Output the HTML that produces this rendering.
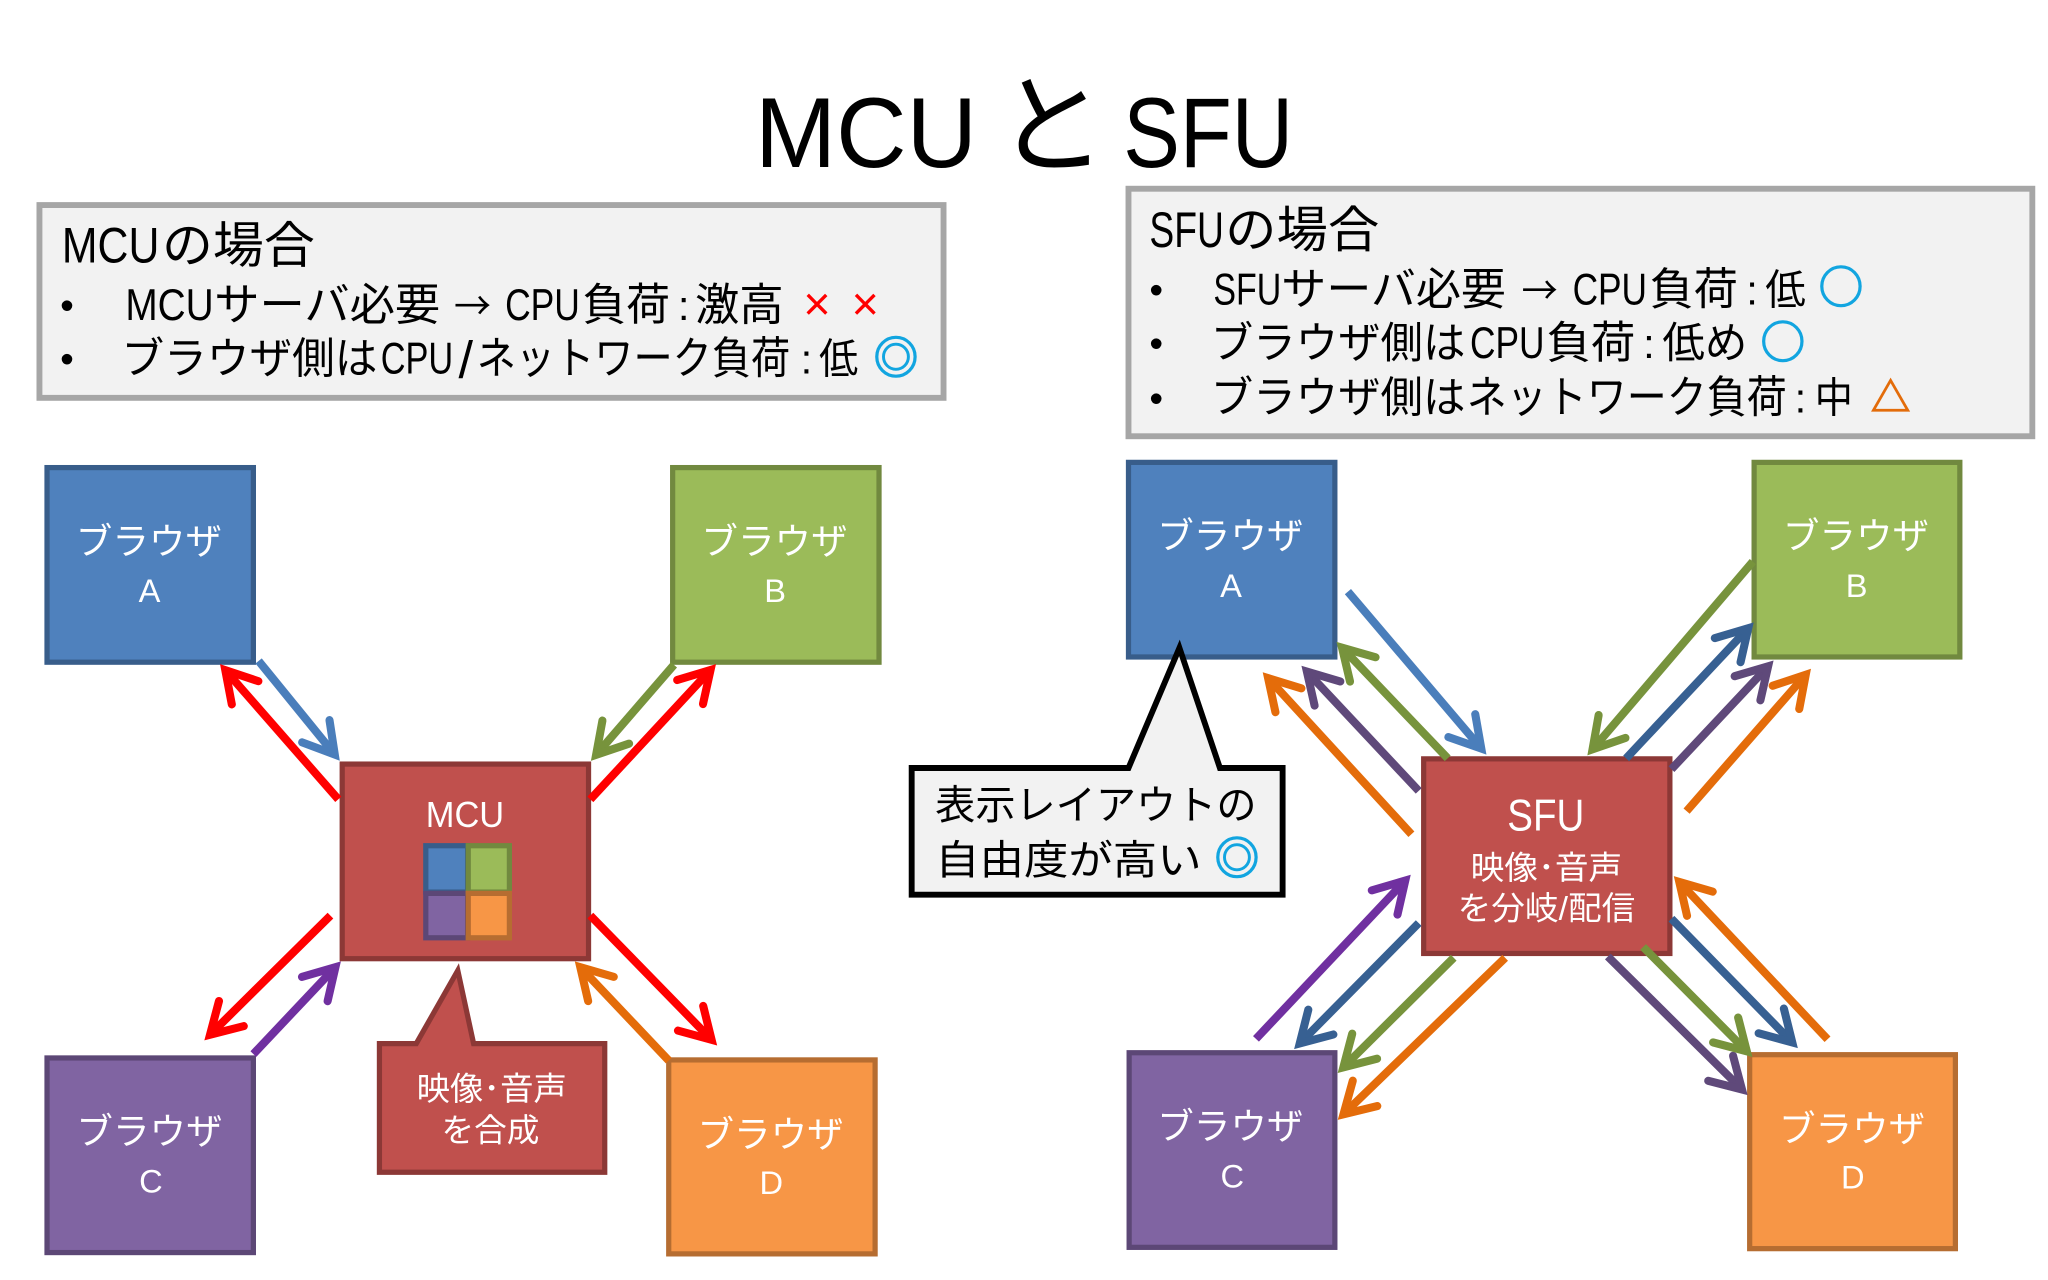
<!DOCTYPE html>
<html lang="ja">
<head>
<meta charset="utf-8">
<title>MCU と SFU</title>
<style>
html,body{margin:0;padding:0;background:#fff;width:2048px;height:1280px;overflow:hidden}
svg{display:block}
text{font-family:"Liberation Sans","Noto Sans CJK JP",sans-serif;fill:#000}
.w{fill:#fff}
.m{text-anchor:middle}
.line{fill:none;stroke-width:6.2}
.box{stroke-width:4}
.c{font-family:"Noto Sans CJK JP",sans-serif}
.ring{font-family:"Noto Sans CJK JP",sans-serif;fill:#12a5e0;stroke:#12a5e0;stroke-width:1.2;text-anchor:middle}
</style>
</head>
<body>
<svg xmlns="http://www.w3.org/2000/svg" width="2048" height="1280" viewBox="0 0 1568 980">
<defs>
<marker id="r" markerUnits="userSpaceOnUse" viewBox="-40 -25 60 50" refX="0" refY="0" markerWidth="60" markerHeight="50" orient="auto"><path d="M-23,-13.5 L0,0 L-23,13.5" fill="none" stroke="#ff0000" stroke-width="6.2" stroke-linecap="round"/></marker>
<marker id="b" markerUnits="userSpaceOnUse" viewBox="-40 -25 60 50" refX="0" refY="0" markerWidth="60" markerHeight="50" orient="auto"><path d="M-23,-13.5 L0,0 L-23,13.5" fill="none" stroke="#4a7ebb" stroke-width="6.2" stroke-linecap="round"/></marker>
<marker id="g" markerUnits="userSpaceOnUse" viewBox="-40 -25 60 50" refX="0" refY="0" markerWidth="60" markerHeight="50" orient="auto"><path d="M-23,-13.5 L0,0 L-23,13.5" fill="none" stroke="#77933c" stroke-width="6.2" stroke-linecap="round"/></marker>
<marker id="p" markerUnits="userSpaceOnUse" viewBox="-40 -25 60 50" refX="0" refY="0" markerWidth="60" markerHeight="50" orient="auto"><path d="M-23,-13.5 L0,0 L-23,13.5" fill="none" stroke="#5f497a" stroke-width="6.2" stroke-linecap="round"/></marker>
<marker id="o" markerUnits="userSpaceOnUse" viewBox="-40 -25 60 50" refX="0" refY="0" markerWidth="60" markerHeight="50" orient="auto"><path d="M-23,-13.5 L0,0 L-23,13.5" fill="none" stroke="#e46c0a" stroke-width="6.2" stroke-linecap="round"/></marker>
<marker id="n" markerUnits="userSpaceOnUse" viewBox="-40 -25 60 50" refX="0" refY="0" markerWidth="60" markerHeight="50" orient="auto"><path d="M-23,-13.5 L0,0 L-23,13.5" fill="none" stroke="#376092" stroke-width="6.2" stroke-linecap="round"/></marker>
<marker id="v" markerUnits="userSpaceOnUse" viewBox="-40 -25 60 50" refX="0" refY="0" markerWidth="60" markerHeight="50" orient="auto"><path d="M-23,-13.5 L0,0 L-23,13.5" fill="none" stroke="#7030a0" stroke-width="6.2" stroke-linecap="round"/></marker>
</defs>

<!-- title -->
<text x="578" y="128" font-size="76" textLength="170" lengthAdjust="spacingAndGlyphs">MCU</text>
<text x="763" y="126" font-size="84" class="c">と</text>
<text x="860" y="128" font-size="76" textLength="130" lengthAdjust="spacingAndGlyphs">SFU</text>

<!-- info boxes -->
<rect x="30.2" y="157" width="692.2" height="147.6" fill="#f2f2f2" stroke="#a6a6a6" stroke-width="4.5"/>
<rect x="864" y="144.5" width="692" height="189.5" fill="#f2f2f2" stroke="#a6a6a6" stroke-width="4.5"/>

<!-- left boxes -->
<rect class="box" x="36" y="358" width="158" height="149" fill="#4f81bd" stroke="#385d8a"/>
<rect class="box" x="515" y="358" width="158" height="149" fill="#9bbb59" stroke="#71893f"/>
<rect class="box" x="36" y="810" width="158" height="149" fill="#8064a2" stroke="#5c4776"/>
<rect class="box" x="512" y="811.5" width="158" height="148.5" fill="#f79646" stroke="#b66d31"/>
<rect class="box" x="262" y="585" width="188.6" height="149" fill="#c0504d" stroke="#8c3836"/>
<rect class="box" x="326" y="647.5" width="32" height="35.5" fill="#4f81bd" stroke="#385d8a"/>
<rect class="box" x="326" y="684" width="32" height="34" fill="#8064a2" stroke="#5c4776"/>
<rect class="box" x="358.5" y="647.5" width="31.5" height="35.5" fill="#9bbb59" stroke="#71893f"/>
<rect class="box" x="358.5" y="684" width="31.5" height="34" fill="#f79646" stroke="#b66d31"/>

<!-- right boxes -->
<rect class="box" x="864" y="354" width="158" height="149" fill="#4f81bd" stroke="#385d8a"/>
<rect class="box" x="1343" y="354" width="157.5" height="149" fill="#9bbb59" stroke="#71893f"/>
<rect class="box" x="864.5" y="806" width="157.5" height="149" fill="#8064a2" stroke="#5c4776"/>
<rect class="box" x="1339.6" y="807.5" width="157.5" height="148.5" fill="#f79646" stroke="#b66d31"/>
<rect class="box" x="1090" y="581" width="188.5" height="149" fill="#c0504d" stroke="#8c3836"/>

<!-- left arrows -->
<line class="line" x1="259" y1="612" x2="172.5" y2="513.1" stroke="#ff0000" marker-end="url(#r)"/>
<line class="line" x1="198" y1="506" x2="256.3" y2="577.7" stroke="#4a7ebb" marker-end="url(#b)"/>
<line class="line" x1="516" y1="509" x2="456.4" y2="577.9" stroke="#77933c" marker-end="url(#g)"/>
<line class="line" x1="452" y1="612" x2="544" y2="513" stroke="#ff0000" marker-end="url(#r)"/>
<line class="line" x1="253" y1="701" x2="160.8" y2="792.2" stroke="#ff0000" marker-end="url(#r)"/>
<line class="line" x1="194" y1="807" x2="256.8" y2="740.5" stroke="#7030a0" marker-end="url(#v)"/>
<line class="line" x1="452" y1="701" x2="544.8" y2="796.1" stroke="#ff0000" marker-end="url(#r)"/>
<line class="line" x1="512" y1="812" x2="444.3" y2="740.5" stroke="#e46c0a" marker-end="url(#o)"/>

<!-- right arrows -->
<line class="line" x1="1032" y1="453" x2="1134.1" y2="573.1" stroke="#4a7ebb" marker-end="url(#b)"/>
<line class="line" x1="1108.4" y1="580.6" x2="1027.5" y2="495.9" stroke="#77933c" marker-end="url(#g)"/>
<line class="line" x1="1086.2" y1="605.5" x2="1000.6" y2="514.2" stroke="#5f497a" marker-end="url(#p)"/>
<line class="line" x1="1080.6" y1="638.7" x2="970.9" y2="519.2" stroke="#e46c0a" marker-end="url(#o)"/>
<line class="line" x1="1342" y1="430" x2="1219.3" y2="573.7" stroke="#77933c" marker-end="url(#g)"/>
<line class="line" x1="1245" y1="580.6" x2="1338.5" y2="481" stroke="#376092" marker-end="url(#n)"/>
<line class="line" x1="1279.7" y1="588.9" x2="1353.7" y2="510.2" stroke="#5f497a" marker-end="url(#p)"/>
<line class="line" x1="1291.3" y1="621" x2="1382.5" y2="516.6" stroke="#e46c0a" marker-end="url(#o)"/>
<line class="line" x1="961.6" y1="795.4" x2="1075.9" y2="674.2" stroke="#7030a0" marker-end="url(#v)"/>
<line class="line" x1="1086.2" y1="706.7" x2="995.1" y2="798.9" stroke="#376092" marker-end="url(#n)"/>
<line class="line" x1="1113" y1="733.3" x2="1028.5" y2="817.2" stroke="#77933c" marker-end="url(#g)"/>
<line class="line" x1="1152.4" y1="733.3" x2="1028.6" y2="853.1" stroke="#e46c0a" marker-end="url(#o)"/>
<line class="line" x1="1231" y1="732.3" x2="1333.7" y2="834.1" stroke="#5f497a" marker-end="url(#p)"/>
<line class="line" x1="1258" y1="725" x2="1337.4" y2="804.9" stroke="#77933c" marker-end="url(#g)"/>
<line class="line" x1="1279.7" y1="703.4" x2="1372.2" y2="798.1" stroke="#376092" marker-end="url(#n)"/>
<line class="line" x1="1399.2" y1="795.7" x2="1285.7" y2="675.2" stroke="#e46c0a" marker-end="url(#o)"/>

<!-- callouts -->
<path d="M290.5,799 H318.7 L350.5,743 L362.6,799 H463 V897.5 H290.5 Z" fill="#c0504d" stroke="#8c3836" stroke-width="4"/>
<path d="M698,588 H864 L903,496 L934,588 H982 V685 H698 Z" fill="#f2f2f2" stroke="#000" stroke-width="4.5"/>

<!-- MCU info text -->
<text x="47.4" y="201" font-size="38" textLength="74.600" lengthAdjust="spacingAndGlyphs">MCU</text>
<text x="124" y="201" font-size="38" class="c" textLength="117" lengthAdjust="spacingAndGlyphs">の場合</text>
<text x="46" y="244" font-size="30">•</text>
<text x="96" y="245" font-size="34" textLength="67.600" lengthAdjust="spacingAndGlyphs">MCU</text>
<text x="164" y="245" font-size="34" class="c" textLength="173" lengthAdjust="spacingAndGlyphs">サーバ必要</text>
<text x="347.6" y="245" font-size="30" class="c" textLength="28.400" lengthAdjust="spacingAndGlyphs">→</text>
<text x="386.7" y="245" font-size="34" textLength="57.300" lengthAdjust="spacingAndGlyphs">CPU</text>
<text x="446" y="245" font-size="34" class="c" textLength="67" lengthAdjust="spacingAndGlyphs">負荷</text>
<text x="519" y="245" font-size="32">:</text>
<text x="532" y="245" font-size="34" class="c" textLength="68" lengthAdjust="spacingAndGlyphs">激高</text>
<text x="615" y="245" font-size="36" style="fill:#ff0000" textLength="58" lengthAdjust="spacing">××</text>
<text x="46" y="285" font-size="30">•</text>
<text x="93" y="286" font-size="33" class="c" textLength="196" lengthAdjust="spacingAndGlyphs">ブラウザ側は</text>
<text x="291.5" y="286" font-size="34" textLength="55.500" lengthAdjust="spacingAndGlyphs">CPU</text>
<text x="351" y="289" font-size="40">/</text>
<text x="365" y="286" font-size="34" class="c" textLength="240" lengthAdjust="spacingAndGlyphs">ネットワーク負荷</text>
<text x="613" y="286" font-size="32">:</text>
<text x="627" y="286" font-size="32" class="c" textLength="30" lengthAdjust="spacingAndGlyphs">低</text>
<text x="686" y="286" font-size="34" class="ring">◎</text>

<!-- SFU info text -->
<text x="880" y="189" font-size="38" textLength="57" lengthAdjust="spacingAndGlyphs">SFU</text>
<text x="938" y="189" font-size="38" class="c" textLength="118" lengthAdjust="spacingAndGlyphs">の場合</text>
<text x="880" y="232" font-size="30">•</text>
<text x="929" y="233" font-size="34" textLength="52" lengthAdjust="spacingAndGlyphs">SFU</text>
<text x="981" y="233" font-size="34" class="c" textLength="172" lengthAdjust="spacingAndGlyphs">サーバ必要</text>
<text x="1165" y="233" font-size="30" class="c" textLength="27.700" lengthAdjust="spacingAndGlyphs">→</text>
<text x="1204" y="233" font-size="34" textLength="57" lengthAdjust="spacingAndGlyphs">CPU</text>
<text x="1263" y="233" font-size="34" class="c" textLength="67.600" lengthAdjust="spacingAndGlyphs">負荷</text>
<text x="1337" y="233" font-size="32">:</text>
<text x="1351.5" y="233" font-size="32" class="c" textLength="31" lengthAdjust="spacingAndGlyphs">低</text>
<text x="1409.5" y="232" font-size="34" class="ring">○</text>
<text x="880" y="273" font-size="30">•</text>
<text x="927" y="274" font-size="33" class="c" textLength="195" lengthAdjust="spacingAndGlyphs">ブラウザ側は</text>
<text x="1125.5" y="274" font-size="34" textLength="57" lengthAdjust="spacingAndGlyphs">CPU</text>
<text x="1184" y="274" font-size="34" class="c" textLength="68" lengthAdjust="spacingAndGlyphs">負荷</text>
<text x="1258" y="274" font-size="32">:</text>
<text x="1272.8" y="274" font-size="33" class="c" textLength="65" lengthAdjust="spacingAndGlyphs">低め</text>
<text x="1365" y="274" font-size="34" class="ring">○</text>
<text x="880" y="315" font-size="30">•</text>
<text x="927" y="316" font-size="33" class="c" textLength="195" lengthAdjust="spacingAndGlyphs">ブラウザ側は</text>
<text x="1123" y="316" font-size="34" class="c" textLength="245" lengthAdjust="spacingAndGlyphs">ネットワーク負荷</text>
<text x="1374" y="316" font-size="32">:</text>
<text x="1389.4" y="316" font-size="32" class="c" textLength="29.200" lengthAdjust="spacingAndGlyphs">中</text>
<text x="1447.5" y="315" font-size="30" class="m c" style="fill:#e36c0a;stroke:#e36c0a;stroke-width:1">△</text>

<!-- browser labels left -->
<text class="w m" x="114" y="424" font-size="28">ブラウザ</text>
<text class="w m" x="114.5" y="461" font-size="25">A</text>
<text class="w m" x="593" y="424" font-size="28">ブラウザ</text>
<text class="w m" x="593.5" y="461" font-size="25">B</text>
<text class="w m" x="114.5" y="876" font-size="28">ブラウザ</text>
<text class="w m" x="115.5" y="913" font-size="25">C</text>
<text class="w m" x="590" y="878" font-size="28">ブラウザ</text>
<text class="w m" x="590.5" y="914" font-size="25">D</text>
<text class="w" x="326" y="633" font-size="28" textLength="60" lengthAdjust="spacingAndGlyphs">MCU</text>

<!-- browser labels right -->
<text class="w m" x="942" y="420" font-size="28">ブラウザ</text>
<text class="w m" x="942.5" y="457" font-size="25">A</text>
<text class="w m" x="1421" y="420" font-size="28">ブラウザ</text>
<text class="w m" x="1421.5" y="457" font-size="25">B</text>
<text class="w m" x="942" y="872" font-size="28">ブラウザ</text>
<text class="w m" x="943.5" y="909" font-size="25">C</text>
<text class="w m" x="1418" y="874" font-size="28">ブラウザ</text>
<text class="w m" x="1418.5" y="910" font-size="25">D</text>
<text class="w" x="1154" y="636" font-size="34" textLength="59" lengthAdjust="spacingAndGlyphs">SFU</text>
<text class="w" x="1126" y="673" font-size="25" textLength="116" lengthAdjust="spacingAndGlyphs">映像･音声</text>
<text class="w" x="1116" y="704" font-size="25" textLength="136" lengthAdjust="spacingAndGlyphs">を分岐/配信</text>

<!-- callout text -->
<text class="w" x="319" y="842" font-size="25" textLength="115" lengthAdjust="spacingAndGlyphs">映像･音声</text>
<text class="w" x="338" y="874" font-size="25" textLength="75" lengthAdjust="spacingAndGlyphs">を合成</text>
<text x="716" y="627" font-size="31" textLength="246" lengthAdjust="spacingAndGlyphs">表示レイアウトの</text>
<text x="716" y="669" font-size="31" textLength="204" lengthAdjust="spacingAndGlyphs">自由度が高い</text>
<text x="947" y="669" font-size="34" class="ring">◎</text>
</svg>
</body>
</html>
